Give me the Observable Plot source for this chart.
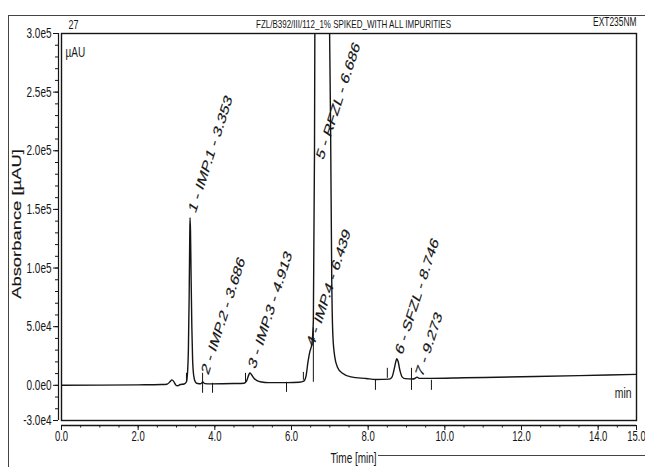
<!DOCTYPE html>
<html>
<head>
<meta charset="utf-8">
<script src="https://cdn.jsdelivr.net/npm/d3@7"></script>
<script src="https://cdn.jsdelivr.net/npm/@observablehq/plot@0.6"></script>
<style>
  html, body { margin: 0; padding: 0; background: #fff; }
  #page { position: relative; width: 645px; height: 467px; overflow: hidden; background: #fff; }
  #page svg { display: block; position: absolute; left: 0; top: 0; }
  .rule { position: absolute; background: #444; }
</style>
</head>
<body>
<div id="page">
  <div class="rule" style="left:8px; top:15px; width:1px; height:452px;"></div>
  <div class="rule" style="left:8px; top:15px; width:637px; height:1px;"></div>
  <div class="rule" style="left:378px; top:455px; width:267px; height:1px;"></div>
</div>
<script>
// Chromatogram trace: retention time (min) and absorbance (µAU)
const traceTime = [
  0.0, 1.0, 2.0, 2.6, 2.75, 2.83, 2.88, 2.93, 2.98, 3.03, 3.10, 3.20,
  3.26, 3.29, 3.31, 3.33, 3.345, 3.353, 3.365, 3.38, 3.40, 3.42, 3.45, 3.49, 3.55,
  3.63, 3.686, 3.74, 3.90, 4.50,
  4.76, 4.83, 4.88, 4.913, 4.95, 5.01, 5.10, 5.22, 5.40, 5.90, 6.20,
  6.32, 6.38, 6.43, 6.48, 6.53, 6.57, 6.60, 6.63, 6.686, 6.78, 6.90, 6.98,
  7.02, 7.05, 7.08, 7.13, 7.20, 7.32, 7.55, 7.95, 8.20,
  8.55, 8.62, 8.68, 8.72, 8.746, 8.78, 8.83, 8.89, 8.96, 9.15,
  9.22, 9.273, 9.33, 9.60, 10.5, 12.0, 13.5, 15.0
];
const traceAbs = [
  0, 150, 400, 650, 900, 3000, 4600, 3200, 300, -400, 700, 1100,
  3000, 12000, 30000, 75000, 125000, 143000, 132000, 95000, 50000, 22000, 8000, 3000, 1500,
  1300, 2800, 1400, 1200, 1500,
  1800, 3800, 8500, 10500, 9500, 6500, 4000, 2800, 2300, 2300, 2600,
  3500, 8000, 20000, 29000, 35000, 55000, 200000, 550000, 1100000, 900000, 550000, 340000,
  220000, 90000, 42000, 24000, 15500, 10500, 7200, 5800, 5000,
  5300, 7000, 14000, 20000, 22800, 20500, 12500, 7000, 5700, 5400,
  5800, 7000, 5900, 5900, 6400, 7300, 8300, 9300
];

// Integration event markers: time, lower and upper end (µAU)
const eventTime = [3.26, 3.68, 3.94, 4.80, 5.87, 6.31, 6.57, 8.19, 8.50, 9.13, 9.65];
const eventLow  = [2600, -6800, -6800, 2600, -6000, 4300, 2600, -4300, 6000, -4300, -4300];
const eventHigh = [10200, 10200, 1700, 10200, 2600, 11000, 49000, 4300, 14500, 14500, 4300];

// Peak annotations
const peakNames = [
  "1 - IMP.1 - 3.353", "2 - IMP.2 - 3.686", "3 - IMP.3 - 4.913", "4 - IMP.4 - 6.439",
  "5 - RFZL - 6.686", "6 - SFZL - 8.746", "7 - 9.273"
];
const peakTime = [3.353, 3.686, 4.913, 6.439, 6.686, 8.746, 9.273];
const peakLabelAbs = [148000, 10200, 15300, 34000, 193500, 27300, 8500];

// Axis ticks
const yTickValues = [-30000, 0, 50000, 100000, 150000, 200000, 250000, 300000];
const yTickLabels = ["-3.0e4", "0.0e0", "5.0e4", "1.0e5", "1.5e5", "2.0e5", "2.5e5", "3.0e5"];
const xTickValues = [0, 2, 4, 6, 8, 10, 12, 14, 15];
const xTickLabels = ["0.0", "2.0", "4.0", "6.0", "8.0", "10.0", "12.0", "14.0", "15.0"];

const headerTitle = "FZL/B392/III/112_1% SPIKED_WITH ALL IMPURITIES";
const headerLeft = "27";
const headerRight = "EXT235NM";

const trace = traceTime.map((t, i) => ({t, v: traceAbs[i]}));
const events = eventTime.map((t, i) => ({t, lo: eventLow[i], hi: eventHigh[i]}));
const peaks = peakTime.map((t, i) => ({t, v: peakLabelAbs[i], name: peakNames[i]}));

const ink = "#151515";
const font = "'Liberation Sans', Arial, Helvetica, sans-serif";

const chart = Plot.plot({
  width: 645,
  height: 467,
  marginLeft: 61,
  marginRight: 9,
  marginTop: 33,
  marginBottom: 47,
  x: {domain: [0, 15], axis: null, label: null},
  y: {domain: [-30000, 300000], axis: null, label: null},
  style: {fontFamily: font, color: ink, background: "transparent", overflow: "visible"},
  marks: [
    Plot.frame({stroke: ink, strokeWidth: 1.4}),
    // y axis spine and ticks
    Plot.ruleX([0], {dx: -3, stroke: ink, strokeWidth: 1.2}),
    Plot.axisY({ticks: d3.range(-30000, 300001, 10000), tickFormat: () => "", tickSize: 3, dx: -3, label: null, stroke: ink}),
    Plot.axisY({ticks: yTickValues, tickFormat: (d) => yTickLabels[yTickValues.indexOf(d)],
      tickSize: 5, tickPadding: 2, dx: -3, fontSize: 10, label: null, stroke: ink, fill: ink}),
    // x axis spine and ticks
    Plot.ruleY([-30000], {dy: 5, stroke: ink, strokeWidth: 1.3}),
    Plot.axisX({ticks: d3.range(0, 15.001, 0.5), tickFormat: () => "", tickSize: 2.5, dy: 5, label: null, stroke: ink}),
    Plot.axisX({ticks: xTickValues, tickFormat: (d) => xTickLabels[xTickValues.indexOf(d)],
      tickSize: 5, tickPadding: 1, dy: 5, fontSize: 9.5, label: null, stroke: ink, fill: ink}),
    // integration markers
    Plot.ruleX(events, {x: "t", y1: "lo", y2: "hi", stroke: ink, strokeWidth: 1}),
    // signal
    Plot.line(trace, {x: "t", y: "v", curve: "monotone-x", stroke: ink, strokeWidth: 1.4, clip: true}),
    // peak labels
    Plot.text(peaks, {x: "t", y: "v", text: "name", rotate: -65, textAnchor: "start", lineAnchor: "middle",
      dx: 2, fontSize: 12, fill: ink, stroke: ink, strokeWidth: 0.15}),
    // axis titles and units
    Plot.text(["Absorbance [µAU]"], {frameAnchor: "left", rotate: -90, textAnchor: "middle", lineAnchor: "middle",
      dx: -45, dy: -3, fontSize: 12.7, fill: ink, stroke: ink, strokeWidth: 0.15}),
    Plot.text(["Time [min]"], {frameAnchor: "bottom", textAnchor: "middle", lineAnchor: "middle",
      dx: 4.5, dy: 38, fontSize: 10, fill: ink}),
    Plot.text(["µAU"], {frameAnchor: "top-left", textAnchor: "start", lineAnchor: "middle",
      dx: 4, dy: 19, fontSize: 10, fill: ink}),
    Plot.text(["min"], {frameAnchor: "bottom-right", textAnchor: "end", lineAnchor: "middle",
      dx: -5, dy: -27, fontSize: 10.4, fill: ink}),
    // header strip
    Plot.text([headerTitle], {frameAnchor: "top", textAnchor: "middle", lineAnchor: "middle",
      dx: 4.5, dy: -9, fontSize: 8, fill: ink}),
    Plot.text([headerLeft], {frameAnchor: "top-left", textAnchor: "start", lineAnchor: "middle",
      dx: 7, dy: -9, fontSize: 9, fill: ink}),
    Plot.text([headerRight], {frameAnchor: "top-right", textAnchor: "end", lineAnchor: "middle",
      dx: 0, dy: -11, fontSize: 8.4, fill: ink})
  ]
});

// Printer output uses tall, condensed lettering: stretch every label vertically.
const K = 1.45;
chart.querySelectorAll("text").forEach((t) => {
  const tr = t.getAttribute("transform");
  if (tr && /^translate\([^)]*\)/.test(tr)) {
    t.setAttribute("transform", tr.replace(/^(translate\([^)]*\))/, `$1 scale(1,${K})`));
  } else {
    const x = +t.getAttribute("x") || 0, y = +t.getAttribute("y") || 0;
    t.setAttribute("transform", `translate(${x},${y}) scale(1,${K}) translate(${-x},${-y})` + (tr ? " " + tr : ""));
  }
});

document.getElementById("page").prepend(chart);
</script>
</body>
</html>
